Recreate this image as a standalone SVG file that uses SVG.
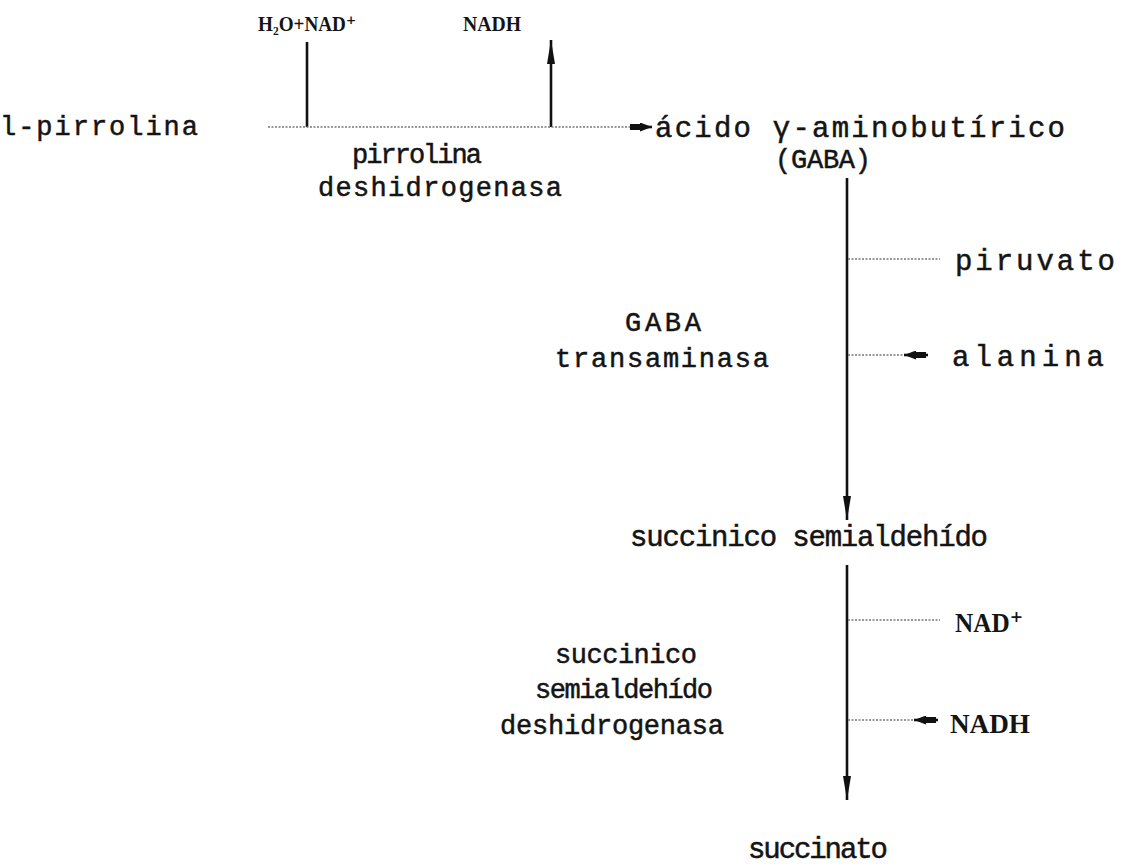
<svg xmlns="http://www.w3.org/2000/svg" width="1138" height="868" viewBox="0 0 1138 868">
<defs>
<style>
.t{font-family:"Liberation Mono","DejaVu Sans Mono",monospace;fill:#141414;stroke:#141414;stroke-width:0.5}
.big{font-size:29px}
.mid{font-size:27px}
.sm{font-family:"Liberation Serif","DejaVu Serif",serif;font-weight:bold;font-size:22px;fill:#141414}
.co{font-family:"Liberation Serif","DejaVu Serif",serif;font-weight:bold;font-size:28px;fill:#141414}
.solid{stroke:#111;stroke-width:2.6;fill:none}
.dot{stroke:#777;stroke-width:1.3;stroke-dasharray:2 1.5;fill:none}
</style>
<marker id="ah" viewBox="0 0 24 8" refX="24" refY="4" markerWidth="24" markerHeight="8" markerUnits="userSpaceOnUse" orient="auto">
<path d="M0,0 L24,4 L0,8 z" fill="#111"/>
</marker>
<marker id="ah2" viewBox="0 0 22 9" refX="22" refY="4.5" markerWidth="22" markerHeight="9" markerUnits="userSpaceOnUse" orient="auto">
<path d="M0,1.5 L10,1.5 L10,0 L22,4.5 L10,9 L10,7.5 L0,7.5 z" fill="#111"/>
</marker>
</defs>
<rect width="1138" height="868" fill="#fff"/>
<g id="connectors">
<line class="solid" x1="307" y1="42" x2="307" y2="127"/>
<line class="solid" x1="551" y1="127" x2="551" y2="40" marker-end="url(#ah)"/>
<line class="dot" x1="268" y1="127" x2="634" y2="127"/>
<line class="solid" x1="632" y1="127" x2="652" y2="127" marker-end="url(#ah2)"/>
<line class="solid" x1="847" y1="178" x2="847" y2="520" marker-end="url(#ah)"/>
<line class="dot" x1="848" y1="259" x2="940" y2="259"/>
<line class="dot" x1="848" y1="355" x2="906" y2="355"/>
<line class="solid" x1="928" y1="355" x2="904" y2="355" marker-end="url(#ah2)"/>
<line class="solid" x1="847" y1="565" x2="847" y2="800" marker-end="url(#ah)"/>
<line class="dot" x1="848" y1="620" x2="940" y2="620"/>
<line class="dot" x1="848" y1="720" x2="916" y2="720"/>
<line class="solid" x1="938" y1="720" x2="914" y2="720" marker-end="url(#ah2)"/>
</g>
<g id="pirrolina"><text class="t mid" x="0" y="135" textLength="198" lengthAdjust="spacing">l-pirrolina</text></g>
<g id="h2o-nad"><text class="sm" x="258" y="31" textLength="98" lengthAdjust="spacingAndGlyphs">H₂O+NAD⁺</text></g>
<g id="nadh-top"><text class="sm" x="463" y="31" textLength="58" lengthAdjust="spacingAndGlyphs">NADH</text></g>
<g id="pirrolina-dh"><text class="t mid" x="352" y="163" textLength="130" lengthAdjust="spacing">pirrolina</text>
<text class="t mid" x="318" y="196" textLength="244" lengthAdjust="spacing">deshidrogenasa</text></g>
<g id="gaba"><text class="t big" x="655" y="137" textLength="410" lengthAdjust="spacing">ácido γ-aminobutírico</text>
<text class="t mid" x="775" y="168" textLength="96" lengthAdjust="spacing">(GABA)</text></g>
<g id="piruvato"><text class="t big" x="955" y="270" textLength="160" lengthAdjust="spacing">piruvato</text></g>
<g id="alanina"><text class="t big" x="952" y="366" textLength="152" lengthAdjust="spacing">alanina</text></g>
<g id="gaba-trans"><text class="t mid" x="625" y="331" textLength="76" lengthAdjust="spacing">GABA</text>
<text class="t mid" x="555" y="367" textLength="214" lengthAdjust="spacing">transaminasa</text></g>
<g id="ssa"><text class="t big" x="630" y="546" textLength="358" lengthAdjust="spacing">succinico semialdehído</text></g>
<g id="nad-plus"><text class="co" x="955" y="632" textLength="68" lengthAdjust="spacingAndGlyphs">NAD⁺</text></g>
<g id="nadh-right"><text class="co" x="950" y="733" textLength="80" lengthAdjust="spacingAndGlyphs">NADH</text></g>
<g id="ssadh"><text class="t mid" x="555" y="663" textLength="142" lengthAdjust="spacing">succinico</text>
<text class="t mid" x="535" y="698" textLength="178" lengthAdjust="spacing">semialdehído</text>
<text class="t mid" x="500" y="734" textLength="224" lengthAdjust="spacing">deshidrogenasa</text></g>
<g id="succinato"><text class="t big" x="748" y="858" textLength="140" lengthAdjust="spacing">succinato</text></g>
</svg>
